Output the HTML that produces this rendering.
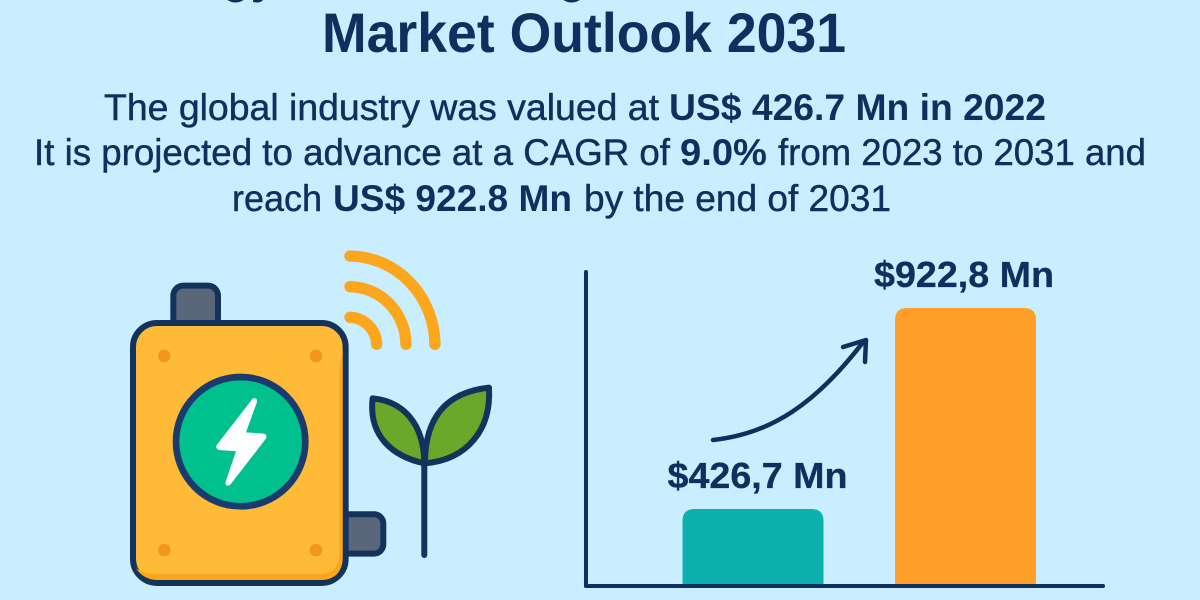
<!DOCTYPE html>
<html lang="en">
<head>
<meta charset="utf-8">
<title>Energy Harvesting Market Outlook 2031</title>
<style>
html,body{margin:0;padding:0;background:#c9eeff;}
body{width:1200px;height:600px;overflow:hidden;}
svg{display:block;}
text{font-family:"Liberation Sans",sans-serif;fill:#0f2f5e;}
.h{font-weight:700;font-size:56px;}
.p{font-size:37px;stroke:#0f2f5e;stroke-width:.45px;}
.b{font-size:37px;font-weight:700;}
.v{font-size:36px;font-weight:700;stroke:#0f2f5e;stroke-width:.3px;}
</style>
</head>
<body>
<svg id="root" xmlns="http://www.w3.org/2000/svg" width="1200" height="600" viewBox="0 0 1200 600">
  <rect width="1200" height="600" fill="#c9eeff"/>

  <g>
    <text class="h" x="116" y="-9" textLength="161" lengthAdjust="spacingAndGlyphs">Energy</text>
    <text class="h" x="337" y="-9" textLength="250" lengthAdjust="spacingAndGlyphs">Harvesting</text>
    <text class="h" x="322" y="52" textLength="524" lengthAdjust="spacingAndGlyphs">Market Outlook 2031</text>
  </g>

  <g>
    <text class="p" x="104" y="120" textLength="555" lengthAdjust="spacingAndGlyphs">The global industry was valued at</text>
    <text class="b" x="669" y="120" textLength="377" lengthAdjust="spacingAndGlyphs">US$ 426.7 Mn in 2022</text>
    <text class="p" x="34" y="165" textLength="636" lengthAdjust="spacingAndGlyphs">It is projected to advance at a CAGR of</text>
    <text class="b" x="680" y="165" textLength="87" lengthAdjust="spacingAndGlyphs">9.0%</text>
    <text class="p" x="778" y="165" textLength="368" lengthAdjust="spacingAndGlyphs">from 2023 to 2031 and</text>
    <text class="p" x="232" y="211" textLength="90" lengthAdjust="spacingAndGlyphs">reach</text>
    <text class="b" x="333" y="211" textLength="239" lengthAdjust="spacingAndGlyphs">US$ 922.8 Mn</text>
    <text class="p" x="584" y="211" textLength="307" lengthAdjust="spacingAndGlyphs">by the end of 2031</text>
  </g>

  <g transform="translate(120 240) scale(.3333)">
    <rect x="160" y="137" width="134" height="130" rx="30" fill="#5a6679" stroke="#14335c" stroke-width="18"/>
    <rect x="660" y="823" width="130" height="118" rx="28" fill="#5a6679" stroke="#14335c" stroke-width="18"/>
    <rect x="39" y="249" width="638" height="780" rx="72" fill="#ffbb38" stroke="#14335c" stroke-width="18"/>
    <path d="M48 985 Q70 1020 115 1020 H600 Q668 1020 668 950 V330 Q660 360 658 400 V945 Q655 1003 595 1003 H115 Q70 1003 48 985Z" fill="#f9a61a"/>
    <circle cx="133" cy="348" r="19" fill="#f2961f"/>
    <circle cx="588" cy="348" r="19" fill="#f2961f"/>
    <circle cx="133" cy="930" r="19" fill="#f2961f"/>
    <circle cx="588" cy="930" r="19" fill="#f2961f"/>
    <circle cx="362" cy="605" r="194" fill="#00c08e" stroke="#1a3b6e" stroke-width="20"/>
    <path d="M398 476 Q412 470 411 486 L378 577 L432 581 Q444 586 437 597 L332 733 Q318 744 316 728 L348 634 L296 630 Q284 624 291 614Z" fill="#fff"/>
    <g fill="none" stroke="#fca61d" stroke-width="34" stroke-linecap="round">
      <path d="M690 48 A258 268 0 0 1 945 313"/>
      <path d="M690 140 A170 175 0 0 1 858 313"/>
      <path d="M690 232 A82 84 0 0 1 770 313"/>
    </g>
    <g stroke="#14335c" stroke-width="18" stroke-linejoin="round" stroke-linecap="round">
      <path d="M913 670 V945" fill="none"/>
      <path d="M758 475 C850 485 912 550 913 670 C820 650 745 590 758 475Z" fill="#6aa82a"/>
      <path d="M1107 443 C1000 455 915 510 915 670 C1040 660 1115 570 1107 443Z" fill="#6aa82a"/>
    </g>
  </g>

  <g id="chart"></g>
</svg>

<script>
const categories = ["2022", "2031"];
const values = [426.7, 922.8];
const valueLabels = ["$426,7 Mn", "$922,8 Mn"];
const barColors = ["#0cb0ae", "#ff9f27"];

const NS = "http://www.w3.org/2000/svg";
const chart = document.getElementById("chart");

function yScale(v) {
  return 586 - (v - 236.6) * 0.40516;
}
function barLeft(i) {
  return 682.5 + i * 212.5;
}
function labelCenter(i) {
  return 757.5 + i * 206.5;
}
const barWidth = 141;
const cornerRadius = 12;
const labelWidth = 180;

function make(tag, attrs) {
  const el = document.createElementNS(NS, tag);
  for (const k in attrs) el.setAttribute(k, attrs[k]);
  return el;
}

categories.forEach(function (cat, i) {
  const x = barLeft(i);
  const top = yScale(values[i]);
  const base = yScale(236.6);
  const bar = make("path", {
    d: "M" + x + " " + base + " V" + (top + cornerRadius) +
       " Q" + x + " " + top + " " + (x + cornerRadius) + " " + top +
       " H" + (x + barWidth - cornerRadius) +
       " Q" + (x + barWidth) + " " + top + " " + (x + barWidth) + " " + (top + cornerRadius) +
       " V" + base + "Z",
    fill: barColors[i]
  });
  
  
  chart.appendChild(bar);

  const label = make("text", {
    x: labelCenter(i) - labelWidth / 2,
    y: top - 21,
    textLength: labelWidth,
    lengthAdjust: "spacingAndGlyphs",
    "class": "v"
  });
  
  
  label.textContent = valueLabels[i];
  chart.appendChild(label);
});

const yAxis = make("path", {
  d: "M586 272 V586",
  fill: "none", stroke: "#0f2f5e", "stroke-width": 4, "stroke-linecap": "round"
});


chart.appendChild(yAxis);

const xAxis = make("path", {
  d: "M586 586 H1103",
  fill: "none", stroke: "#0f2f5e", "stroke-width": 4, "stroke-linecap": "round"
});


chart.appendChild(xAxis);

const growthCurve = make("path", {
  d: "M713 440 C770 434 815 405 864 341",
  fill: "none", stroke: "#0f2f5e", "stroke-width": 4.5, "stroke-linecap": "round"
});


chart.appendChild(growthCurve);

const growthHead = make("path", {
  d: "M843 347 L866 340 L865 362",
  fill: "none", stroke: "#0f2f5e", "stroke-width": 4.5, "stroke-linecap": "round", "stroke-linejoin": "round"
});


chart.appendChild(growthHead);
</script>
</body>
</html>
